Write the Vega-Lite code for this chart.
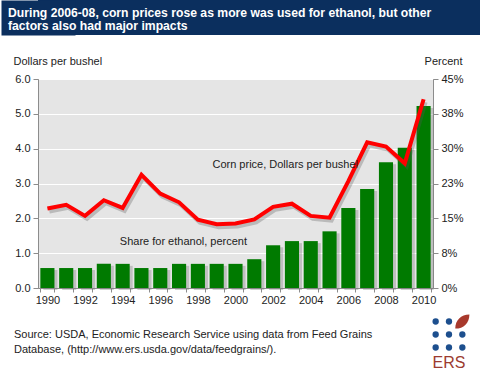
{
  "$schema": "https://vega.github.io/schema/vega-lite/v6.json",
  "padding": 0,
  "background": "white",
  "spacing": 19,
  "config": {
    "font": "Liberation Sans",
    "view": {"stroke": null},
    "axis": {"labelFont": "Liberation Sans", "titleFont": "Liberation Sans", "labelColor": "#222", "titleColor": "#222", "labelFontSize": 11, "titleFontSize": 11, "titleFontWeight": "normal", "domainColor": "#8c8c8c", "tickColor": "#8c8c8c"},
    "title": {"font": "Liberation Sans"}
  },
  "vconcat": [
    {
      "width": 443,
      "height": 35,
      "view": {"fill": "#0b2f5e", "stroke": null},
      "title": {
        "text": ["During 2006-08, corn prices rose as more was used for ethanol, but other", "factors also had major impacts"],
        "orient": "bottom", "anchor": "start", "frame": "group", "baseline": "top",
        "offset": -28, "dx": -30, "color": "white", "fontSize": 12.2, "fontWeight": "bold", "lineHeight": 13
      },
      "data": {"values": []},
      "mark": "point",
      "encoding": {
        "y": {"field": "v", "type": "quantitative", "scale": {"domain": [0, 1]},
          "axis": {"orient": "left", "title": null, "labels": false, "ticks": false, "grid": false, "domain": true, "domainColor": "#0b2f5e", "domainWidth": 74, "minExtent": 0}}
      }
    },
    {
      "spacing": 8,
      "vconcat": [
        {
          "width": 395,
          "height": 209,
          "view": {"fill": "#e5e5e5", "stroke": "#8c8c8c"},
          "data": {"values": [
            {"year": 1990, "price": 2.28, "share": 4.3},
            {"year": 1991, "price": 2.39, "share": 4.3},
            {"year": 1992, "price": 2.07, "share": 4.3},
            {"year": 1993, "price": 2.52, "share": 5.2},
            {"year": 1994, "price": 2.30, "share": 5.2},
            {"year": 1995, "price": 3.25, "share": 4.3},
            {"year": 1996, "price": 2.71, "share": 4.3},
            {"year": 1997, "price": 2.46, "share": 5.2},
            {"year": 1998, "price": 1.96, "share": 5.2},
            {"year": 1999, "price": 1.83, "share": 5.2},
            {"year": 2000, "price": 1.85, "share": 5.2},
            {"year": 2001, "price": 1.97, "share": 6.2},
            {"year": 2002, "price": 2.33, "share": 9.2},
            {"year": 2003, "price": 2.42, "share": 10.1},
            {"year": 2004, "price": 2.07, "share": 10.1},
            {"year": 2005, "price": 2.02, "share": 12.2},
            {"year": 2006, "price": 3.07, "share": 17.2},
            {"year": 2007, "price": 4.18, "share": 21.3},
            {"year": 2008, "price": 4.06, "share": 27.1},
            {"year": 2009, "price": 3.58, "share": 30.2},
            {"year": 2010, "price": 5.42, "share": 39.2}
          ]},
          "encoding": {
            "x": {
              "field": "year", "type": "ordinal",
              "scale": {"paddingInner": 0.25, "paddingOuter": 0.125},
              "axis": {"title": null, "labelAngle": 0, "labelExpr": "datum.value % 2 == 0 ? datum.label : ''", "tickBand": "extent", "tickSize": 4, "labelPadding": 2, "labelFontSize": 11}
            }
          },
          "layer": [
            {
              "encoding": {"y": {
                "field": "share", "type": "quantitative",
                "scale": {"domain": [0, 45], "nice": false},
                "axis": {"orient": "right", "values": [0, 7.5, 15, 22.5, 30, 37.5, 45], "labelExpr": "format(datum.value, '.0f') + '%'", "title": "Percent", "titleAngle": 0, "titleAlign": "right", "titleBaseline": "alphabetic", "titleX": 29, "titleY": -15, "grid": false, "tickSize": 5, "labelPadding": 3}
              }},
              "layer": [
                {"mark": {"type": "bar", "color": "#777", "opacity": 0.35, "xOffset": 3, "yOffset": 2}},
                {"mark": {"type": "bar", "color": "#007a00"}},
                {
                  "data": {"values": [{"year": 1994, "share": 9.9, "label": "Share for ethanol, percent"}]},
                  "mark": {"type": "text", "align": "left", "baseline": "middle", "fontSize": 11, "color": "#222"},
                  "encoding": {
                    "x": {"field": "year", "type": "ordinal", "bandPosition": 0.3},
                    "text": {"field": "label"}
                  }
                }
              ]
            },
            {
              "encoding": {"y": {
                "field": "price", "type": "quantitative",
                "scale": {"domain": [0, 6], "nice": false},
                "axis": {"orient": "left", "values": [0, 1, 2, 3, 4, 5, 6], "format": ".1f", "grid": true, "gridColor": "white", "gridWidth": 1, "gridOpacity": 1, "title": "Dollars per bushel", "titleAngle": 0, "titleAlign": "left", "titleBaseline": "alphabetic", "titleX": -25, "titleY": -15, "tickSize": 5, "labelPadding": 3, "minExtent": 37}
              }},
              "layer": [
                {"mark": {"type": "line", "color": "#555", "opacity": 0.3, "strokeWidth": 4, "xOffset": 2, "yOffset": 3}},
                {"mark": {"type": "line", "color": "#f00", "strokeWidth": 4}},
                {
                  "data": {"values": [{"year": 1999, "price": 3.53, "label": "Corn price, Dollars per bushel"}]},
                  "mark": {"type": "text", "align": "left", "baseline": "middle", "fontSize": 11, "color": "#222"},
                  "encoding": {
                    "x": {"field": "year", "type": "ordinal", "bandPosition": 0.2},
                    "text": {"field": "label"}
                  }
                }
              ]
            }
          ],
          "resolve": {"scale": {"y": "independent"}}
        },
        {
          "spacing": 10,
          "hconcat": [
            {
              "width": 381,
              "height": 11,
              "title": {
                "text": ["Source: USDA, Economic Research Service using data from Feed Grains", "Database, (http://www.ers.usda.gov/data/feedgrains/)."],
                "orient": "bottom", "anchor": "start", "frame": "group", "baseline": "top",
                "offset": 3, "dx": -24, "fontSize": 11, "fontWeight": "normal", "color": "#222", "lineHeight": 15
              },
              "data": {"values": []},
              "mark": "point"
            },
            {
              "width": 40,
              "height": 39,
              "data": {"values": [
                {"c": 0, "r": 0, "kind": "dot"},
                {"c": 1, "r": 0, "kind": "dot"},
                {"c": 2, "r": 0, "kind": "leaf"},
                {"c": 0, "r": 1, "kind": "dot"},
                {"c": 1, "r": 1, "kind": "dot"},
                {"c": 2, "r": 1, "kind": "dot"},
                {"c": 0, "r": 2, "kind": "dot"},
                {"c": 1, "r": 2, "kind": "dot"},
                {"c": 2, "r": 2, "kind": "dot"}
              ]},
              "mark": {"type": "point", "filled": true, "opacity": 1},
              "encoding": {
                "x": {"field": "c", "type": "ordinal", "axis": null, "scale": {"type": "point", "padding": 0.5}},
                "y": {"field": "r", "type": "ordinal", "axis": null, "scale": {"type": "point", "padding": 0.5}},
                "shape": {"field": "kind", "type": "nominal", "legend": null, "scale": {"domain": ["dot", "leaf"], "range": ["circle", "M -1 1 C -1 -0.2 -0.2 -1 1 -1 C 1 0.2 0.2 1 -1 1 Z"]}},
                "size": {"field": "kind", "type": "nominal", "legend": null, "scale": {"domain": ["dot", "leaf"], "range": [40, 200]}},
                "color": {"field": "kind", "type": "nominal", "legend": null, "scale": {"domain": ["dot", "leaf"], "range": ["#1d4f8e", "#a8392c"]}}
              },
              "title": {"text": "ERS", "orient": "bottom", "anchor": "middle", "frame": "group", "fontSize": 16, "fontWeight": "normal", "color": "#9c3b30", "offset": 1, "baseline": "top"}
            }
          ]
        }
      ]
    }
  ]
}
